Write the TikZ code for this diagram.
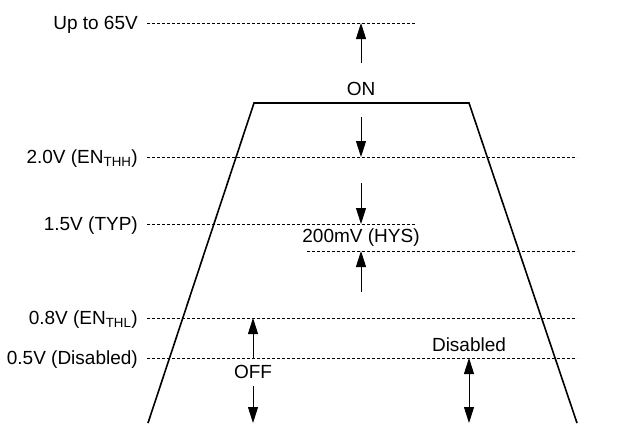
\documentclass[tikz,border=0pt]{standalone}
\usepackage{fontspec}
\setmainfont{Liberation Sans}
\usetikzlibrary{arrows.meta}

\begin{document}
\begin{tikzpicture}[
        x=1pt, y=-1pt,
        font=\fontsize{19}{22}\selectfont,
        level/.style = {draw, line width=0.8pt, dash pattern=on 3pt off 2pt},
        lbl/.style = {anchor=base east, inner sep=0pt},
        txt/.style = {inner sep=0pt},
        pin/.style = {line width=0.9pt, -{Triangle[length=16pt, width=10pt]}},
        pins/.style = {line width=0.9pt, {Triangle[length=16pt, width=10pt]}-{Triangle[length=16pt, width=10pt]}},
        ]
        \useasboundingbox (0,0) rectangle (626,423);
        % threshold levels
        \foreach \y/\len/\name/\txt in {23/415/u65/Up to 65V,
                157/577/thh/2.0V (EN\textsubscript{THH}),
                224/415/typ/1.5V (TYP),
                318/577/thl/0.8V (EN\textsubscript{THL}),
                358/577/dis/0.5V (Disabled)} {
            \node [lbl] (\name) at (138,\y+6.5) {\txt};
            \draw [level] (147,\y) coordinate (\name-s) -- (\len,\y) coordinate (\name-e);
        }
        \coordinate (hys-s) at (307,251);
        \coordinate (hys-e) at (577,251);
        \draw [level] (hys-s) -- (hys-e);

        % enable pin voltage
        \draw [line width=1.6pt]
            (148,423) -- (254,103) -- (469,103) -- (577,423);

        \node [txt] (on) at (361,89) {ON};
        \node [txt] (hys) at (361,238) {200mV (HYS)};
        \node [txt] (off) at (253,372) {OFF};
        \node [txt] (disab) at (469,345) {Disabled};

        \coordinate (a1) at (361,63);
        \coordinate (a2) at (361,117);
        \coordinate (a3) at (361,183);
        \coordinate (a4) at (361,292);
        \coordinate (b1) at (253,386);
        \coordinate (bot) at (0,423);

        \draw [pin] (a1) -- (a1 |- u65-e);
        \draw [pin] (a2) -- (a2 |- thh-e);
        \draw [pin] (a3) -- (a3 |- typ-e);
        \draw [pin] (a4) -- (a4 |- hys-e);
        \draw [pin] (off |- dis-e) -- (off |- thl-e);
        \draw [pin] (b1) -- (b1 |- bot);
        \draw [pins] (disab |- dis-e) -- (disab |- bot);
\end{tikzpicture}
\end{document}
